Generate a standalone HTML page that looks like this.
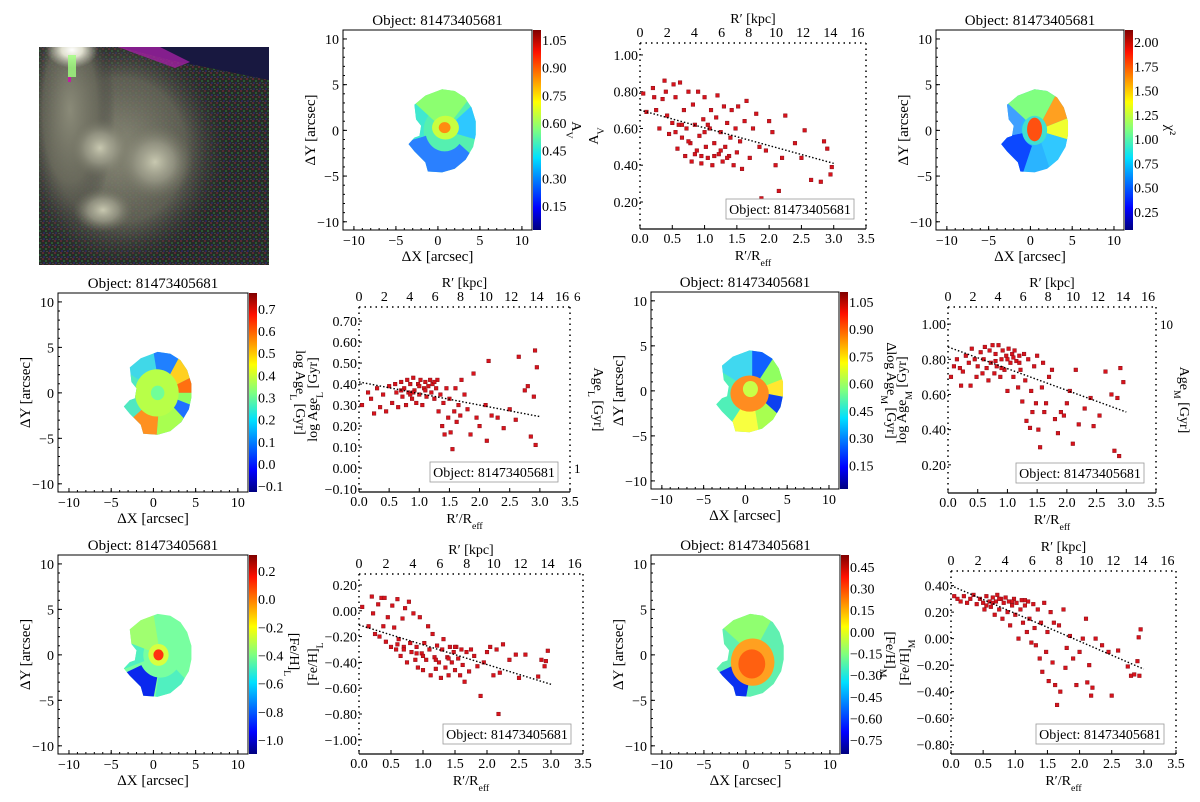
<!DOCTYPE html>
<html><head><meta charset="utf-8">
<style>
html,body{margin:0;padding:0;background:#fff;}
svg{display:block;font-family:"Liberation Serif",serif;}
</style></head>
<body>
<svg id="fig" width="1200" height="802" viewBox="0 0 1200 802" xmlns="http://www.w3.org/2000/svg">
<defs>
<linearGradient id="jet" x1="0" y1="1" x2="0" y2="0">
<stop offset="0" stop-color="#00007f"/><stop offset="0.11" stop-color="#0000ff"/>
<stop offset="0.36" stop-color="#00e0ff"/><stop offset="0.5" stop-color="#7fff7f"/>
<stop offset="0.64" stop-color="#ffff00"/><stop offset="0.89" stop-color="#ff1000"/>
<stop offset="1" stop-color="#7f0000"/></linearGradient>
<radialGradient id="gw"><stop offset="0" stop-color="#ffffff"/><stop offset="0.4" stop-color="#eeeedd" stop-opacity="0.9"/><stop offset="1" stop-color="#c8c8b8" stop-opacity="0"/></radialGradient>
<radialGradient id="gb"><stop offset="0" stop-color="#c8c8b0"/><stop offset="0.5" stop-color="#9a9a88" stop-opacity="0.8"/><stop offset="1" stop-color="#707060" stop-opacity="0"/></radialGradient>
<radialGradient id="halo"><stop offset="0" stop-color="#8a8a78"/><stop offset="0.6" stop-color="#6a6a5c" stop-opacity="0.8"/><stop offset="1" stop-color="#303030" stop-opacity="0"/></radialGradient>
<pattern id="noise" width="6" height="6" patternUnits="userSpaceOnUse">
<rect width="6" height="6" fill="#262a26"/><rect x="0" y="0" width="2" height="2" fill="#5a2a34"/><rect x="3" y="2" width="2" height="2" fill="#2a5a34"/><rect x="1" y="4" width="2" height="2" fill="#2a2a5a"/><rect x="4" y="5" width="2" height="1" fill="#444"/></pattern>
<clipPath id="imgclip"><rect x="39" y="47" width="230" height="218"/></clipPath>
</defs>
<g id="root"></g>
</svg>
<script>
// ---------- scatter data ----------
const avPts=[[0.05,0.79],[0.1,0.69],[0.2,0.82],[0.22,0.77],[0.25,0.7],[0.3,0.6],[0.35,0.76],[0.38,0.86],[0.4,0.8],[0.42,0.67],[0.45,0.57],[0.5,0.63],[0.52,0.84],[0.55,0.77],[0.58,0.49],[0.6,0.62],[0.62,0.85],[0.65,0.55],[0.68,0.7],[0.7,0.45],[0.72,0.6],[0.75,0.8],[0.78,0.52],[0.8,0.42],[0.82,0.73],[0.85,0.62],[0.88,0.48],[0.9,0.8],[0.92,0.56],[0.95,0.41],[0.98,0.65],[1.0,0.77],[1.02,0.5],[1.05,0.44],[1.08,0.6],[1.1,0.7],[1.12,0.4],[1.15,0.52],[1.18,0.66],[1.2,0.78],[1.22,0.46],[1.25,0.58],[1.28,0.42],[1.3,0.72],[1.32,0.5],[1.35,0.63],[1.38,0.45],[1.4,0.55],[1.42,0.7],[1.45,0.4],[1.48,0.6],[1.5,0.47],[1.52,0.72],[1.55,0.53],[1.58,0.38],[1.62,0.64],[1.65,0.75],[1.7,0.44],[1.75,0.6],[1.8,0.68],[1.85,0.5],[1.88,0.22],[1.95,0.48],[2.0,0.64],[2.05,0.58],[2.1,0.4],[2.15,0.26],[2.2,0.44],[2.25,0.67],[2.4,0.52],[2.5,0.44],[2.55,0.59],[2.65,0.32],[2.8,0.31],[2.85,0.53],[2.9,0.49],[2.95,0.35],[2.97,0.39],[0.55,0.58],[0.75,0.53],[0.95,0.45],[1.05,0.62],[1.15,0.45],[1.25,0.48],[1.35,0.44],[0.85,0.46],[0.65,0.62],[1.0,0.58]];
const ageLPts=[[0.05,0.30],[0.15,0.36],[0.2,0.33],[0.25,0.26],[0.3,0.38],[0.35,0.29],[0.4,0.35],[0.45,0.27],[0.5,0.39],[0.55,0.31],[0.6,0.4],[0.62,0.36],[0.65,0.29],[0.7,0.41],[0.72,0.34],[0.75,0.38],[0.78,0.3],[0.8,0.42],[0.82,0.36],[0.85,0.4],[0.88,0.33],[0.9,0.43],[0.92,0.37],[0.95,0.31],[0.98,0.4],[1.0,0.35],[1.02,0.42],[1.05,0.3],[1.08,0.38],[1.1,0.41],[1.12,0.34],[1.15,0.39],[1.18,0.42],[1.2,0.36],[1.22,0.4],[1.25,0.33],[1.28,0.38],[1.3,0.42],[1.32,0.27],[1.35,0.35],[1.38,0.2],[1.4,0.31],[1.42,0.16],[1.45,0.38],[1.48,0.24],[1.5,0.33],[1.52,0.17],[1.55,0.09],[1.58,0.27],[1.6,0.38],[1.62,0.22],[1.65,0.3],[1.68,0.25],[1.7,0.42],[1.75,0.35],[1.8,0.28],[1.85,0.16],[1.9,0.45],[1.95,0.24],[2.0,0.2],[2.1,0.3],[2.12,0.13],[2.15,0.51],[2.2,0.25],[2.3,0.24],[2.4,0.19],[2.5,0.28],[2.6,0.23],[2.65,0.53],[2.75,0.37],[2.8,0.39],[2.85,0.15],[2.9,0.34],[2.92,0.56],[2.93,0.11],[2.95,0.48],[0.7,0.37],[0.9,0.36],[1.0,0.39],[1.1,0.37],[1.25,0.41],[0.85,0.35]];
const ageMPts=[[0.05,0.7],[0.1,0.76],[0.15,0.8],[0.2,0.75],[0.22,0.65],[0.25,0.73],[0.3,0.82],[0.35,0.78],[0.38,0.65],[0.4,0.86],[0.45,0.8],[0.48,0.7],[0.5,0.76],[0.55,0.84],[0.58,0.72],[0.6,0.8],[0.62,0.87],[0.65,0.75],[0.68,0.68],[0.7,0.85],[0.72,0.78],[0.75,0.88],[0.78,0.72],[0.8,0.83],[0.82,0.76],[0.85,0.88],[0.88,0.7],[0.9,0.8],[0.92,0.85],[0.95,0.74],[0.98,0.82],[1.0,0.62],[1.02,0.86],[1.05,0.78],[1.08,0.83],[1.1,0.7],[1.12,0.85],[1.15,0.79],[1.18,0.64],[1.2,0.82],[1.22,0.74],[1.25,0.56],[1.28,0.83],[1.3,0.68],[1.32,0.45],[1.35,0.8],[1.38,0.41],[1.4,0.62],[1.42,0.5],[1.45,0.76],[1.48,0.55],[1.5,0.82],[1.52,0.4],[1.55,0.3],[1.58,0.64],[1.6,0.78],[1.62,0.5],[1.65,0.55],[1.7,0.7],[1.75,0.74],[1.8,0.46],[1.85,0.38],[1.9,0.5],[1.95,0.48],[2.0,0.55],[2.05,0.62],[2.1,0.32],[2.15,0.74],[2.2,0.43],[2.3,0.52],[2.4,0.58],[2.45,0.42],[2.55,0.48],[2.65,0.73],[2.75,0.6],[2.8,0.28],[2.85,0.58],[2.88,0.25],[2.9,0.75],[2.95,0.67],[0.8,0.79],[1.0,0.8],[1.1,0.81],[1.2,0.78],[0.9,0.75]];
const fehLPts=[[0.05,0.03],[0.15,-0.12],[0.2,0.11],[0.22,-0.02],[0.25,-0.18],[0.3,0.05],[0.32,-0.2],[0.35,0.1],[0.38,-0.12],[0.4,0.1],[0.42,-0.24],[0.45,-0.05],[0.5,-0.28],[0.52,0.04],[0.55,-0.13],[0.58,-0.3],[0.6,0.09],[0.62,-0.22],[0.65,-0.35],[0.68,-0.06],[0.7,-0.28],[0.72,0.02],[0.75,-0.4],[0.78,0.07],[0.8,-0.25],[0.82,-0.32],[0.85,-0.02],[0.88,-0.38],[0.9,-0.28],[0.92,-0.44],[0.95,-0.05],[0.98,-0.33],[1.0,-0.46],[1.02,-0.25],[1.05,-0.38],[1.08,-0.12],[1.1,-0.3],[1.12,-0.5],[1.15,-0.18],[1.18,-0.36],[1.2,-0.45],[1.22,-0.27],[1.25,-0.4],[1.28,-0.52],[1.3,-0.3],[1.32,-0.22],[1.35,-0.44],[1.38,-0.36],[1.4,-0.5],[1.42,-0.28],[1.45,-0.4],[1.48,-0.32],[1.5,-0.46],[1.52,-0.28],[1.55,-0.37],[1.58,-0.5],[1.6,-0.3],[1.62,-0.42],[1.65,-0.55],[1.68,-0.32],[1.72,-0.47],[1.75,-0.3],[1.8,-0.35],[1.85,-0.43],[1.9,-0.66],[1.95,-0.4],[2.0,-0.32],[2.05,-0.28],[2.1,-0.5],[2.15,-0.3],[2.18,-0.8],[2.2,-0.48],[2.25,-0.26],[2.35,-0.38],[2.45,-0.34],[2.5,-0.52],[2.6,-0.34],[2.65,-0.92],[2.8,-0.51],[2.85,-0.38],[2.9,-0.43],[2.92,-0.39],[2.95,-0.31],[0.6,-0.26],[0.7,-0.3],[0.9,-0.33],[1.0,-0.35],[1.2,-0.38],[1.4,-0.37],[1.5,-0.28]];
const fehMPts=[[0.05,0.32],[0.1,0.3],[0.15,0.28],[0.2,0.32],[0.25,0.27],[0.3,0.3],[0.35,0.33],[0.4,0.26],[0.45,0.3],[0.5,0.27],[0.52,0.22],[0.55,0.32],[0.6,0.28],[0.62,0.24],[0.65,0.31],[0.68,0.18],[0.7,0.28],[0.72,0.33],[0.75,0.22],[0.78,0.3],[0.8,0.15],[0.82,0.27],[0.85,0.31],[0.88,0.2],[0.9,0.28],[0.92,0.1],[0.95,0.25],[0.98,0.3],[1.0,0.18],[1.02,0.27],[1.05,0.0],[1.08,0.22],[1.1,0.29],[1.12,0.12],[1.15,0.25],[1.18,0.05],[1.2,0.28],[1.22,0.15],[1.25,-0.03],[1.28,0.26],[1.3,0.08],[1.32,-0.05],[1.35,0.22],[1.38,-0.15],[1.4,0.12],[1.42,-0.25],[1.45,0.27],[1.48,-0.1],[1.5,0.05],[1.52,-0.32],[1.55,0.2],[1.58,-0.18],[1.6,0.12],[1.62,-0.35],[1.65,-0.5],[1.68,0.1],[1.7,-0.4],[1.75,0.22],[1.78,-0.22],[1.8,-0.07],[1.85,0.02],[1.9,-0.15],[1.95,-0.35],[2.0,-0.1],[2.05,0.0],[2.1,0.15],[2.12,-0.33],[2.15,-0.2],[2.18,-0.43],[2.2,-0.37],[2.25,0.0],[2.35,-0.05],[2.45,-0.1],[2.5,-0.43],[2.6,-0.09],[2.65,-0.67],[2.75,-0.21],[2.8,-0.28],[2.85,-0.27],[2.9,-0.17],[2.92,0.01],[2.95,0.07],[2.93,-0.28],[0.55,0.25],[0.75,0.3],[0.95,0.28],[1.15,0.29],[0.65,0.27]];
// fit lines: [value at R=0, value at R=3]
const avFit=[0.70,0.41];
const ageLFit=[0.41,0.245];
const ageMFit=[0.87,0.50];
const fehLFit=[-0.11,-0.57];
const fehMFit=[0.40,-0.23];
// tick labels
const rTicks=[0,0.5,1,1.5,2,2.5,3,3.5];
const kpcTicks=[0,2,4,6,8,10,12,14,16];
const avTicks=[0.2,0.4,0.6,0.8,1.0];
const ageLTicks=[-0.1,0,0.1,0.2,0.3,0.4,0.5,0.6,0.7];
const ageMTicks=[0.2,0.4,0.6,0.8,1.0];
const fehLTicks=[-1.0,-0.8,-0.6,-0.4,-0.2,0,0.2];
const fehMTicks=[-0.8,-0.6,-0.4,-0.2,0,0.2,0.4];
const mapTicks=[-10,-5,0,5,10];
const cbAv=["1.05","0.90","0.75","0.60","0.45","0.30","0.15"];
const cbChi=["2.00","1.75","1.50","1.25","1.00","0.75","0.50","0.25"];
const cbAgeL=["0.7","0.6","0.5","0.4","0.3","0.2","0.1","0.0","\u22120.1"];
const cbAgeM=["1.05","0.90","0.75","0.60","0.45","0.30","0.15"];
const cbFeL=["0.2","0.0","\u22120.2","\u22120.4","\u22120.6","\u22120.8","\u22121.0"];
const cbFeM=["0.45","0.30","0.15","0.00","\u22120.15","\u22120.30","\u22120.45","\u22120.60","\u22120.75"];

const NS="http://www.w3.org/2000/svg";
const root=document.getElementById('root');
function mk(tag,attrs,parent){const e=document.createElementNS(NS,tag);for(const k in attrs)e.setAttribute(k,attrs[k]);(parent||root).appendChild(e);return e;}
function txt(s,x,y,o,parent){const e=mk('text',Object.assign({x:x,y:y,'font-size':13,fill:'#000'},o||{}),parent);e.textContent=s;return e;}
// rich text: parts = [[string, isSub], ...]
function rich(parts,x,y,o,parent){
 const e=mk('text',Object.assign({x:x,y:y,'font-size':14,fill:'#000'},o||{}),parent);
 parts.forEach(p=>{const t=mk('tspan',p[1]?{'font-size':'70%','baseline-shift':'sub'}:{},e);t.textContent=p[0];});
 return e;
}
const fmt2=v=>(v<0?'\u2212':'')+Math.abs(v).toFixed(2);

// ---------- galaxy image ----------
(function(){
 const g=mk('g',{'clip-path':'url(#imgclip)'});
 
 
 mk('rect',{x:39,y:47,width:230,height:218,fill:'url(#noise)'},g);
 mk('ellipse',{cx:120,cy:150,rx:110,ry:120,fill:'url(#halo)'},g);
 mk('ellipse',{cx:70,cy:110,rx:45,ry:120,fill:'url(#halo)'},g);
 mk('polygon',{points:'120,47 269,47 269,80 220,70 170,60',fill:'#181840'},g);
 mk('polygon',{points:'118,47 160,47 190,62 175,68',fill:'#a020a0',opacity:0.8},g);
 mk('ellipse',{cx:100,cy:148,rx:30,ry:30,fill:'url(#gb)'},g);
 mk('ellipse',{cx:155,cy:162,rx:38,ry:38,fill:'url(#gb)'},g);
 mk('ellipse',{cx:103,cy:210,rx:30,ry:22,fill:'url(#gb)'},g);
 mk('ellipse',{cx:72,cy:50,rx:26,ry:18,fill:'url(#gw)'},g);
 mk('rect',{x:68,y:55,width:8,height:22,fill:'#a0ff80',opacity:0.8},g);
 mk('rect',{x:68,y:77,width:3,height:5,fill:'#c020a0'},g);
})();

// ---------- maps ----------
const outline=[[0.5,4.5],[2,4.3],[3.2,3.6],[4,2.5],[4.5,1],[4.5,-0.5],[4.2,-1.8],[3.3,-3.2],[2,-4.2],[0.5,-4.6],[-1.2,-4.5],[-1.5,-3.5],[-2.8,-2.3],[-3.5,-1.5],[-2.8,-0.8],[-2.2,-0.6],[-2,0.5],[-2.6,1.2],[-2.8,2.8],[-1.5,3.8]];
let clipId=0;
function drawMap(P){
 const g=mk('g',{});
 
 
 const {x0,x1,y0,y1}=P;
 const sx=v=>x0+(v+11.3)/(22.5)*(x1-x0);
 const sy=v=>y0+(10.98-v)/(21.88)*(y1-y0);
 txt('Object: 81473405681',(x0+x1)/2,y0-5,{'text-anchor':'middle','font-size':15},g);
 const id='clip'+(clipId++);
 const cp=mk('clipPath',{id:id},g);
 mk('polygon',{points:outline.map(p=>sx(p[0])+','+sy(p[1])).join(' ')},cp);
 const blob=mk('g',{'clip-path':'url(#'+id+')'},g);
 
 
 mk('rect',{x:sx(-5),y:sy(5),width:sx(5)-sx(-5),height:sy(-5)-sy(5),fill:P.base},blob);
 const cx=0.8,cy=0;
 P.sectors.forEach(s=>{
  const R=7,pts=[[sx(cx),sy(cy)]];
  for(let a=s[0];a<=s[1];a+=5){const r=a*Math.PI/180;pts.push([sx(cx+R*Math.cos(r)),sy(cy+R*Math.sin(r))]);}
  const rin=s[4]||0;
  if(rin>0){const inner=[];for(let a=s[1];a>=s[0];a-=5){const r=a*Math.PI/180;inner.push([sx(cx+rin*Math.cos(r)),sy(cy+rin*Math.sin(r))]);}pts.shift();pts.push(...inner);}
  mk('polygon',{points:pts.map(p=>p.join(',')).join(' '),fill:s[2]},blob);
 });
 P.blobs.forEach(b=>{
  mk('ellipse',{cx:sx(b[0]),cy:sy(b[1]),rx:(sx(b[2])-sx(0)),ry:(sy(0)-sy(b[3])),fill:b[4]},blob);
 });
 mk('rect',{x:x0,y:y0,width:x1-x0,height:y1-y0,fill:'none',stroke:'#000','stroke-width':1},g);
 mapTicks.forEach(t=>{
  mk('line',{x1:sx(t),x2:sx(t),y1:y1,y2:y1-4,stroke:'#000'},g);
  txt(t<0?'\u2212'+(-t):''+t,sx(t),y1+15,{'text-anchor':'middle','font-size':14},g);
  mk('line',{x1:x0,x2:x0+4,y1:sy(t),y2:sy(t),stroke:'#000'},g);
  txt(t<0?'\u2212'+(-t):''+t,x0-4,sy(t)+5,{'text-anchor':'end','font-size':14},g);
 });
 for(let t=-10;t<=10;t++){mk('line',{x1:sx(t),x2:sx(t),y1:y1,y2:y1-2,stroke:'#000'},g);mk('line',{x1:x0,x2:x0+2,y1:sy(t),y2:sy(t),stroke:'#000'},g);}
 const xl=txt('\u0394X [arcsec]',(x0+x1)/2,y1+31,{'text-anchor':'middle','font-size':15},g);
 
 
 const yc=(y0+y1)/2;
 const yl=txt('\u0394Y [arcsec]',x0-28,yc,{'text-anchor':'middle','font-size':15,transform:'rotate(-90 '+(x0-28)+' '+yc+')'},g);
 
 
 const cb=mk('g',{},g);
 
 
 mk('rect',{x:x1+1,y:y0,width:8,height:y1-y0,fill:'url(#jet)'},cb);
 const n=P.cb.length,top=y0+P.cbTop*(y1-y0),bot=y0+P.cbBot*(y1-y0);
 P.cb.forEach((s,i)=>{const yy=top+(bot-top)*i/(n-1);txt(s,x1+10,yy+5,{'font-size':14},cb);});
 const lx=x1+(P.lblX||48);
 rich(P.cbLabel,lx,yc,{'text-anchor':'middle','font-size':14,transform:'rotate(90 '+lx+' '+yc+')'},cb);
}
drawMap({name:'av-map',x0:343,x1:532,y0:30,y1:230,base:'#55f0b0',cb:cbAv,cbTop:0.05,cbBot:0.88,cbLabel:[['A',0],['V',1]],lblX:40,
 sectors:[[50,140,'#8cff70'],[-15,40,'#2ec8ff'],[195,320,'#2a80ff',0,2.3],[140,195,'#40e8d0',0,2.5]],
 blobs:[[0.9,0.3,1.6,1.3,'#c8ff40'],[0.8,0.3,0.7,0.6,'#ff8c10']]});
drawMap({name:'chi2-map',x0:936,x1:1124,y0:30,y1:230,base:'#2ab4ff',cb:cbChi,cbTop:0.06,cbBot:0.91,cbLabel:[['\u03c7\u00b2',0]],lblX:42,
 sectors:[[60,140,'#80ff80'],[20,60,'#ffa020'],[-15,20,'#f0ff30'],[-70,-15,'#30c8ff'],[190,250,'#0c48ff',0,1.8],[140,190,'#40a0ff',0,2]],
 blobs:[[0.5,0,1.5,1.6,'#40e0d0'],[0.5,0.1,0.9,1.3,'#ff5010']]});
drawMap({name:'age-l-map',x0:58,x1:248,y0:293,y1:492,base:'#40d8e8',cb:cbAgeL,cbTop:0.08,cbBot:0.97,cbLabel:[['log Age',0],['L',1],[' [Gyr]',0]],
 sectors:[[60,100,'#2080ff'],[25,60,'#ffd020'],[0,25,'#ff7010'],[-20,0,'#90ff60'],[-55,-20,'#1e70ff'],[220,265,'#ff9020',0,2],[265,315,'#a8ff50',0,2],[150,220,'#50e8c0',0,2.5]],
 blobs:[[0.4,0,2.6,2.6,'#b8ff48'],[0.5,0,0.8,0.8,'#70ff98']]});
drawMap({name:'delta-age-m-map',x0:651,x1:839,y0:292,y1:489,base:'#50f0b8',cb:cbAgeM,cbTop:0.05,cbBot:0.88,cbLabel:[['\u0394log Age',0],['M',1],[' [Gyr]',0]],
 sectors:[[55,90,'#1060ff'],[90,150,'#40d8f0'],[20,55,'#90ff60'],[-10,20,'#ffe830'],[-40,-10,'#0c40f0'],[-80,-40,'#a8ff50'],[235,280,'#f8ff40',0,2]],
 blobs:[[0.5,-0.3,2.3,2.0,'#ff8c20'],[0.6,0.2,0.9,0.9,'#c8ff48']]});
drawMap({name:'feh-l-map',x0:58,x1:248,y0:555,y1:754,base:'#78ffa0',cb:cbFeL,cbTop:0.08,cbBot:0.93,cbLabel:[['[Fe/H]',0],['L',1]],lblX:42,
 sectors:[[100,160,'#a0ff70'],[160,200,'#50f0c0',0,2],[205,262,'#0a28ee',0,2.5],[262,320,'#50f0c0',0,2.5]],
 blobs:[[0.6,0,1.2,1.2,'#d8ff40'],[0.6,0,0.6,0.6,'#ff3010']]});
drawMap({name:'feh-m-map',x0:651,x1:840,y0:555,y1:754,base:'#60f0b0',cb:cbFeM,cbTop:0.06,cbBot:0.93,cbLabel:[['[Fe/H]',0],['M',1]],lblX:46,
 sectors:[[60,140,'#90ff70'],[205,262,'#0a30f0',0,2.5]],
 blobs:[[0.8,-0.8,2.6,2.6,'#ffa020'],[0.7,-1,1.6,1.6,'#ff6010']]});

// ---------- scatter panels ----------
function drawScatter(P){
 const g=mk('g',{});
 
 
 const {x0,x1,y0,y1,vmin,vmax}=P;
 const sx=r=>x0+r/3.5*(x1-x0);
 const sy=v=>y1-(v-vmin)/(vmax-vmin)*(y1-y0);
 const kx=k=>sx(k/4.75);
 mk('line',{x1:x0,x2:x1,y1:y1,y2:y1,stroke:'#000','stroke-width':1.2},g);
 [[x0,y0,x1,y0],[x0,y0,x0,y1],[x1,y0,x1,y1]].forEach(l=>mk('line',{x1:l[0],y1:l[1],x2:l[2],y2:l[3],stroke:'#000','stroke-width':1.5,'stroke-dasharray':'1.5 4'},g));
 rTicks.forEach(t=>{mk('line',{x1:sx(t),x2:sx(t),y1:y1,y2:y1-4,stroke:'#000'},g);txt(t.toFixed(1),sx(t),y1+14,{'text-anchor':'middle','font-size':14},g);});
 kpcTicks.forEach(k=>{if(kx(k)<=x1+2)txt(''+k,kx(k),y0-6,{'text-anchor':'middle','font-size':14},g);});
 P.ticks.forEach(t=>{mk('line',{x1:x0,x2:x0+3,y1:sy(t),y2:sy(t),stroke:'#000'},g);txt(fmt2(t),x0-2,sy(t)+5,{'text-anchor':'end','font-size':14},g);});
 txt('R\u2032 [kpc]',(x0+x1)/2,y0-20,{'text-anchor':'middle','font-size':14},g);
 const xt=rich([['R\u2032/R',0],['eff',1]],(x0+x1)/2,y1+31,{'text-anchor':'middle','font-size':14},g);
 
 
 const yc=(y0+y1)/2,lx=x0-42;
 const yt=rich(P.ylabel,lx,yc,{'text-anchor':'middle','font-size':14,transform:'rotate(-90 '+lx+' '+yc+')'},g);
 
 
 if(P.rlabel){const rx=x1+24;rich(P.rlabel,rx,yc,{'text-anchor':'middle','font-size':14,transform:'rotate(90 '+rx+' '+yc+')'},g);}
 (P.rticks||[]).forEach(r=>txt(r[0],x1+4,sy(r[1])+5,{'font-size':13},g));
 const pg=mk('g',{},g);
 
 
 P.pts.forEach(p=>{
  const c=mk('rect',{x:sx(p[0])-1.8,y:sy(p[1])-1.8,width:3.6,height:3.6,fill:'#d8141c',stroke:'#8a0a14','stroke-width':0.5},pg);
  
  
 });
 const fl=mk('line',{x1:sx(0),y1:sy(P.fit[0]),x2:sx(3),y2:sy(P.fit[1]),stroke:'#000','stroke-width':1.4,'stroke-dasharray':'1.5 2'},g);
 
 
 const lb=mk('g',{},g);
 
 
 const bw=128,bx=x1-bw-12,by=y1-30;
 mk('rect',{x:bx,y:by,width:bw,height:20,fill:'#fff',stroke:'#999','stroke-width':0.8},lb);
 txt('Object: 81473405681',bx+bw/2,by+15,{'text-anchor':'middle','font-size':14},lb);
}
drawScatter({name:'av-radial-profile',x0:640,x1:866,y0:43,y1:229,vmin:0.053,vmax:1.065,pts:avPts,fit:avFit,ticks:avTicks,ylabel:[['A',0],['V',1]]});
drawScatter({name:'age-l-radial-profile',x0:359,x1:570,y0:307,y1:492,vmin:-0.114,vmax:0.767,pts:ageLPts,fit:ageLFit,ticks:ageLTicks,ylabel:[['log Age',0],['L',1],[' [Gyr]',0]],rlabel:[['Age',0],['L',1],[' [Gyr]',0]],rticks:[['6',0.82],['1',0.0]]});
drawScatter({name:'age-m-radial-profile',x0:948,x1:1156,y0:307,y1:493,vmin:0.04,vmax:1.097,pts:ageMPts,fit:ageMFit,ticks:ageMTicks,ylabel:[['log Age',0],['M',1],[' [Gyr]',0]],rlabel:[['Age',0],['M',1],[' [Gyr]',0]],rticks:[['10',1.0]]});
drawScatter({name:'feh-l-radial-profile',x0:359,x1:583,y0:574,y1:754,vmin:-1.11,vmax:0.285,pts:fehLPts,fit:fehLFit,ticks:fehLTicks,ylabel:[['[Fe/H]',0],['L',1]]});
drawScatter({name:'feh-m-radial-profile',x0:951,x1:1176,y0:571,y1:754,vmin:-0.87,vmax:0.51,pts:fehMPts,fit:fehMFit,ticks:fehMTicks,ylabel:[['[Fe/H]',0],['M',1]]});
</script>
</body></html>
